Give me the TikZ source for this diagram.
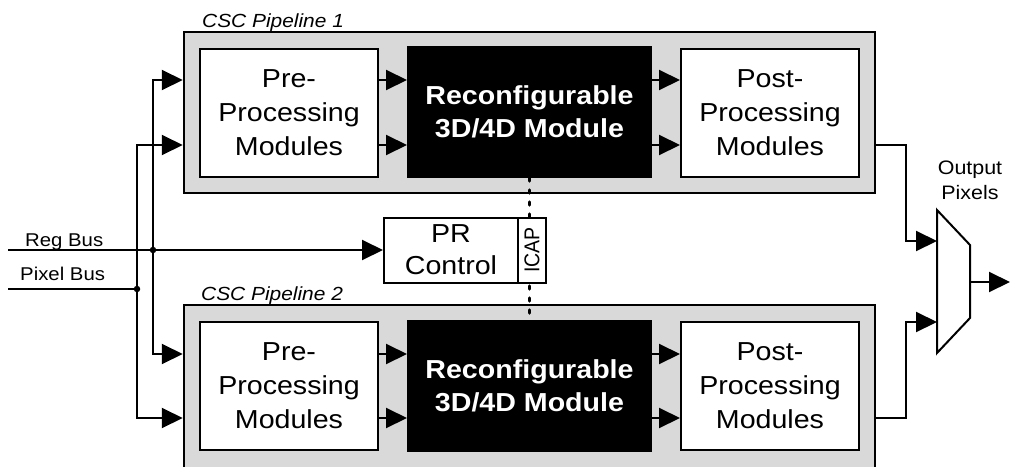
\documentclass[tikz,border=0pt]{standalone}
\usepackage{fontspec}
\usepackage{graphicx}
\setmainfont{Liberation Sans}[FakeStretch=1.1]
\newfontfamily\plainfont{Liberation Sans}
\usetikzlibrary{arrows.meta}
\definecolor{boxgray}{RGB}{217,217,217}
\begin{document}
\begin{tikzpicture}[x=1pt,y=-1pt,
  pipe/.style={draw, fill=boxgray, line width=2.5pt, minimum width=691pt, minimum height=161pt, inner sep=0pt},
  mod/.style={draw, fill=white, line width=2pt, minimum width=178pt, minimum height=128pt, align=center, inner sep=0pt, font=\fontsize{26}{34}\selectfont},
  rec/.style={draw, fill=black, text=white, line width=2pt, minimum width=243pt, minimum height=130pt, align=center, inner sep=0pt, font=\bfseries\fontsize{26}{33}\selectfont},
  prbox/.style={draw, fill=white, line width=2pt, minimum height=65pt, inner sep=0pt, align=center},
  wire/.style={line width=2pt, line join=miter},
  arr/.style={wire, -{Triangle[length=21pt,width=20pt]}},
  arrtwo/.style={wire, {Triangle[length=21pt,width=20pt]}-{Triangle[length=21pt,width=20pt]}},
  plabel/.style={font=\itshape\fontsize{19}{19}\selectfont, anchor=base west, inner sep=0pt},
  buslabel/.style={font=\fontsize{18.5}{18.5}\selectfont, anchor=base west, inner sep=0pt},
  outlabel/.style={font=\fontsize{19.5}{19.5}\selectfont, anchor=base, inner sep=0pt},
  junction/.style={circle, fill=black, minimum size=6.5pt, inner sep=0pt},
  icapline/.style={line width=3.5pt, line cap=round, dash pattern=on 3pt off 9pt}
]
\useasboundingbox (0,0) rectangle (1011,466);

% pipelines
\node[pipe] (pipe1) at (529.5,112.5) {};
\node[pipe, minimum height=166pt] (pipe2) at (529.5,388) {};
\node[plabel] (lab1) at (202,27) {CSC Pipeline 1};
\node[plabel] (lab2) at (201,300) {CSC Pipeline 2};

% modules
\node[mod] (pre1) at (289,113) {Pre-\\Processing\\Modules};
\node[rec] (rec1) at (529.5,112) {Reconfigurable\\3D/4D Module};
\node[mod] (post1) at (770,113) {Post-\\Processing\\Modules};
\node[mod] (pre2) at (289,386) {Pre-\\Processing\\Modules};
\node[rec] (rec2) at (529.5,385.5) {Reconfigurable\\3D/4D Module};
\node[mod] (post2) at (770,386) {Post-\\Processing\\Modules};

% ICAP dotted link
\draw[icapline] (rec1.south) -- (rec2.north);

% PR control
\node[prbox, minimum width=134pt, font=\fontsize{26}{32}\selectfont] (pr) at (451,250) {PR\\Control};
\node[prbox, minimum width=28pt] (icap) at (532,250) {\rotatebox{90}{\scalebox{1}[1.1]{\plainfont\fontsize{19.5}{19.5}\selectfont ICAP}}};

% helper coordinates
\coordinate (ya) at (153,80);
\coordinate (yb) at (137,145);
\coordinate (yc) at (153,354);
\coordinate (yd) at (137,418);

% internal arrows
\draw[arr] (pre1.east |- ya) -- (rec1.west |- ya);
\draw[arr] (pre1.east |- yb) -- (rec1.west |- yb);
\draw[arr] (rec1.east |- ya) -- (post1.west |- ya);
\draw[arr] (rec1.east |- yb) -- (post1.west |- yb);
\draw[arr] (pre2.east |- yc) -- (rec2.west |- yc);
\draw[arr] (pre2.east |- yd) -- (rec2.west |- yd);
\draw[arr] (rec2.east |- yc) -- (post2.west |- yc);
\draw[arr] (rec2.east |- yd) -- (post2.west |- yd);

% input buses
\draw[arrtwo] (pipe1.west |- ya) -- (ya) -- (yc) -- (pipe2.west |- yc);
\draw[arrtwo] (pipe1.west |- yb) -- (yb) -- (yd) -- (pipe2.west |- yd);

\coordinate (regstart) at (8,250);
\coordinate (pixstart) at (8,289);
\node[junction] (regdot) at (153,250) {};
\node[junction] (pixdot) at (137,289) {};
\draw[arr] (regstart) -- (pr.west);
\draw[wire] (pixstart) -- (pixdot.center);
\node[buslabel] (reglab) at (25,246) {Reg Bus};
\node[buslabel] (pixlab) at (20,280) {Pixel Bus};

% output mux
\coordinate (mux1) at (937,210);
\coordinate (mux2) at (970,245);
\coordinate (mux3) at (970,318);
\coordinate (mux4) at (937,353);
\draw[wire, fill=white] (mux1) -- (mux2) -- (mux3) -- (mux4) -- cycle;
\coordinate (min1) at (937,241);
\coordinate (min2) at (937,322);
\coordinate (turn1) at (906,241);
\coordinate (turn2) at (906,322);
\coordinate (mout) at (970,282);
\coordinate (outend) at (1010,282);
\draw[arr] (pipe1.east |- yb) -| (turn1) -- (min1);
\draw[arr] (pipe2.east |- yd) -| (turn2) -- (min2);
\draw[arr] (mout) -- (outend);
\node[outlabel] (outl1) at (970,174) {Output};
\node[outlabel] (outl2) at (970,199) {Pixels};
\end{tikzpicture}
\end{document}
